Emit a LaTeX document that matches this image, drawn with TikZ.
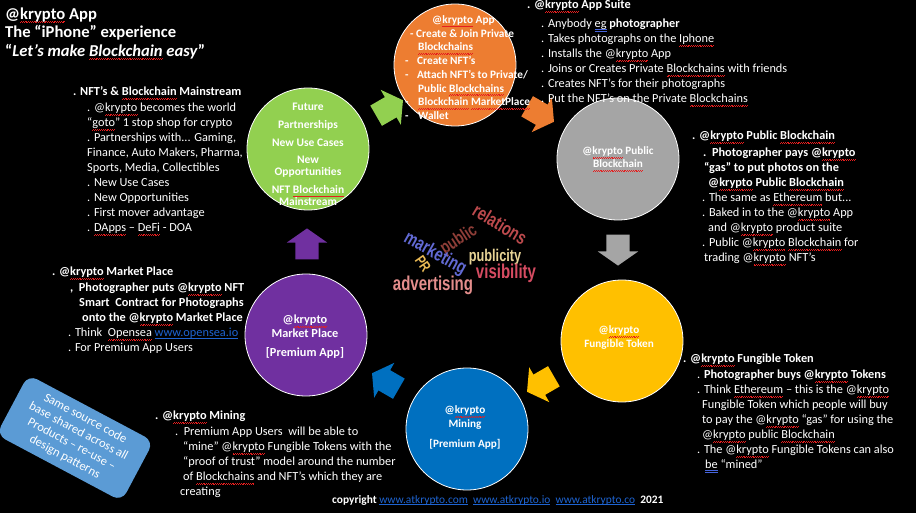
\documentclass[tikz,border=0pt]{standalone}
\usepackage{fontspec}
\setmainfont{Carlito}
\newfontfamily\cloudfont{Liberation Sans}
\usetikzlibrary{shapes.arrows}
\definecolor{corange}{RGB}{237,125,49}
\definecolor{cgray}{RGB}{165,165,165}
\definecolor{cyellow}{RGB}{255,192,0}
\definecolor{cblue}{RGB}{0,112,192}
\definecolor{cpurple}{RGB}{112,48,160}
\definecolor{cgreen}{RGB}{146,208,80}
\definecolor{boxblue}{RGB}{91,155,213}
\definecolor{linkblue}{RGB}{30,100,210}
\definecolor{sqred}{RGB}{230,30,30}
\definecolor{gblue}{RGB}{70,100,220}
\definecolor{wrel}{RGB}{188,74,77}
\definecolor{wpub}{RGB}{143,62,56}
\definecolor{wmkt}{RGB}{98,106,212}
\definecolor{wpr}{RGB}{234,186,85}
\definecolor{wpcy}{RGB}{232,212,150}
\definecolor{wvis}{RGB}{214,76,98}
\definecolor{wadv}{RGB}{228,142,140}
\newsavebox\sqbox
\newcommand\sqw[1]{\sbox\sqbox{#1}\rlap{\textcolor{sqred}{\hbox to\wd\sqbox{\xleaders\hbox{\rule[-3.4pt]{0.9pt}{0.5pt}\rule[-2.7pt]{0.9pt}{0.5pt}}\hfill}}}\usebox\sqbox}
\newcommand\dblu[1]{\sbox\sqbox{#1}\rlap{\textcolor{gblue}{\rule[-2.2pt]{\wd\sqbox}{0.5pt}}}\rlap{\textcolor{gblue}{\rule[-3.5pt]{\wd\sqbox}{0.5pt}}}\usebox\sqbox}
\newcommand\lnk[1]{\sbox\sqbox{\color{linkblue}#1}\rlap{\textcolor{linkblue}{\rule[-1.6pt]{\wd\sqbox}{0.5pt}}}\usebox\sqbox}
\tikzset{
  circ/.style={circle, draw=white, line width=0.8pt, minimum size=122pt, inner sep=0pt},
  barrow/.style={single arrow, draw=none, minimum height=31pt, inner xsep=0pt, inner ysep=11.5pt, single arrow head extend=8.5pt, single arrow tip angle=110},
  body/.style={anchor=north west, inner sep=0pt, align=left, text=white, font=\fontsize{12.3}{15}\selectfont},
  ctext/.style={inner sep=0pt, align=center, text=white, anchor=north},
  cloudw/.style={inner sep=0pt},
}
\begin{document}
\begin{tikzpicture}[x=1pt,y=-1pt]
\useasboundingbox (0,0) rectangle (916,513);
\fill[black] (0,0) rectangle (916,513);

% circles
\node[circ, fill=corange] (orange) at (455,65) {};
\node[circ, fill=cgray] (gray) at (618,159) {};
\node[circ, fill=cyellow] (yellow) at (622,341) {};
\node[circ, fill=cblue] (blue) at (467,429) {};
\node[circ, fill=cpurple] (purple) at (306,335) {};
\node[circ, fill=cgreen] (green) at (308,149) {};

% block arrows
\node[barrow, fill=cgreen, rotate=30] (a1) at (386,110) {};
\node[barrow, fill=corange, rotate=-30] (a2) at (537,112) {};
\node[barrow, fill=cgray, rotate=-90] (a3) at (618,246) {};
\node[barrow, fill=cyellow, rotate=-150] (a4) at (544,382) {};
\node[barrow, fill=cblue, rotate=150] (a5) at (389,383) {};
\node[barrow, fill=cpurple, rotate=90] (a6) at (307,248) {};

% circle texts
\node[anchor=north west, inner sep=0pt, align=left, text=white, font=\fontsize{11.3}{13.7}\selectfont\bfseries] (otext) at (405,13.8)
 {\strut\hspace*{27pt}@\sqw{krypto} App\\\hspace*{5pt}- Create \& Join Private\\\hspace*{13pt}\sqw{Blockchains}\\\makebox[12pt][l]{-}Create NFT’s\\\makebox[12pt][l]{-}Attach NFT’s to Private/\\\hspace*{13pt}Public \sqw{Blockchains}\\\makebox[13pt][l]{-}\sqw{Blockchain} \sqw{MarketPlace}\\\makebox[13pt][l]{-}Wallet};
\node[ctext, font=\fontsize{11.5}{12}\selectfont\bfseries] (gtext) at (308,102)
 {\strut Future\\[6pt]Partnerships\\[6pt]New Use Cases\\[5pt]New\\Opportunities\\[6pt]NFT \sqw{Blockchain}\\Mainstream};
\node[ctext, font=\fontsize{11.2}{13}\selectfont\bfseries] (graytext) at (618,145.4)
 {\strut @\sqw{krypto} Public\\\sqw{Blockchain}};
\node[ctext, font=\fontsize{11.2}{14}\selectfont\bfseries] (ytext) at (619,323.7)
 {\strut @\sqw{krypto}\\Fungible Token};
\node[ctext, font=\fontsize{11.2}{14}\selectfont\bfseries] (btext) at (465,403.7)
 {\strut @\sqw{krypto}\\Mining\\[6pt]{[Premium App]}};
\node[ctext, font=\fontsize{12.3}{14}\selectfont\bfseries] (ptext) at (305,313.7)
 {\strut @\sqw{krypto}\\Market Place\\[5pt]{[Premium App]}};

% title
\node[anchor=north west, inner sep=0pt, align=left, text=white, font=\fontsize{16.6}{18.5}\selectfont\bfseries] (title) at (5,6)
 {\strut @\sqw{krypto} App\\The “iPhone” experience\\“\textit{Let’s make \sqw{Blockchain} easy}”};

% text blocks
\node[body] (suite) at (527,-2)
 {\strut\textbf{. @\sqw{krypto} App Suite}\\[4pt]\hspace*{14pt}. Anybody \dblu{eg} \textbf{photographer}\\\hspace*{14pt}. Takes photographs on the \sqw{Iphone}\\\hspace*{14pt}. Installs the @\sqw{krypto} App\\\hspace*{14pt}. Joins or Creates Private \sqw{Blockchains} with friends\\\hspace*{14pt}. Creates NFT’s for their photographs\\\hspace*{14pt}. Put the NFT’s on the Private \sqw{Blockchains}};

\node[body] (mainstream) at (73,85)
 {\strut\textbf{. NFT’s \& \sqw{Blockchain} Mainstream}\\[1pt]\hspace*{14pt}. @\sqw{krypto} becomes the world\\\hspace*{14pt}“\sqw{goto}” 1 stop shop for crypto\\\hspace*{14pt}. Partnerships with... Gaming,\\\hspace*{14pt}Finance, Auto Makers, Pharma,\\\hspace*{14pt}Sports, Media, Collectibles\\\hspace*{14pt}. New Use Cases\\\hspace*{14pt}. New Opportunities\\\hspace*{14pt}. First mover advantage\\\hspace*{14pt}. \sqw{DApps} – \sqw{DeFi} - DOA};

\node[body] (public) at (692,129)
 {\strut\textbf{. @\sqw{krypto} Public \sqw{Blockchain}}\\[2pt]\hspace*{11pt}\textbf{.\ \ Photographer pays @\sqw{krypto}}\\\hspace*{12pt}\textbf{“gas” to put photos on the}\\\hspace*{16pt}\textbf{@\sqw{krypto} Public \sqw{Blockchain}}\\\hspace*{10pt}. The same as \sqw{Ethereum} but...\\\hspace*{10pt}. Baked in to the @\sqw{krypto} App\\\hspace*{16pt}and @\sqw{krypto} product suite\\\hspace*{10pt}. Public @\sqw{krypto} \sqw{Blockchain} for\\\hspace*{12pt}trading @\sqw{krypto} NFT’s};

\node[body] (market) at (52,265)
 {\strut\textbf{. @\sqw{krypto} Market Place}\\[1pt]\hspace*{18pt}\textbf{,\ \ Photographer puts @\sqw{krypto} NFT}\\\hspace*{27pt}\textbf{Smart\ \ Contract for Photographs}\\\hspace*{30pt}\textbf{onto the @\sqw{krypto} Market Place}\\\hspace*{16pt}. Think\ \ \sqw{Opensea} \lnk{www.opensea.io}\\\hspace*{16pt}. For Premium App Users};

\node[body] (fungible) at (683,352)
 {\strut\textbf{. @\sqw{krypto} Fungible Token}\\[1pt]\hspace*{14pt}. \textbf{Photographer buys @\sqw{krypto} Tokens}\\\hspace*{14pt}. Think \sqw{Ethereum} – this is the @\sqw{krypto}\\\hspace*{19pt}Fungible Token which people will buy\\\hspace*{19pt}to pay the @\sqw{krypto} “gas” for using the\\\hspace*{19pt}@\sqw{krypto} public \sqw{Blockchain}\\\hspace*{14pt}. The @\sqw{krypto} Fungible Tokens can also\\\hspace*{22pt}\dblu{be} “mined”};

\node[body] (mining) at (155,409)
 {\strut\textbf{. @\sqw{krypto} Mining}\\[1pt]\hspace*{20pt}.\ \ Premium App Users\ \ will be able to\\\hspace*{28pt}“mine” @\sqw{krypto} Fungible Tokens with the\\\hspace*{28pt}“proof of trust” model around the number\\\hspace*{28pt}of \sqw{Blockchains} and NFT’s which they are\\\hspace*{25pt}creating};

% blue note box
\node[rounded corners=10pt, fill=boxblue, rotate=-28, minimum width=142pt, minimum height=68pt, inner sep=2pt, align=center, text=white, font=\fontsize{12.5}{14.5}\selectfont] (note) at (75,438)
 {Same source code\\base shared across all\\Products – re-use –\\design patterns};

% copyright
\node[anchor=base west, inner sep=0pt, text=white, font=\fontsize{11.4}{13}\selectfont] (copy) at (332,503)
 {\textbf{copyright} \lnk{www.atkrypto.com}\ \ \lnk{www.atkrypto.io}\ \ \lnk{www.atkrypto.co}\ \ \textbf{2021}};

% word cloud
\node[cloudw, text=wrel, rotate=-31, font=\cloudfont\bfseries\fontsize{19}{19}\selectfont] (w1) at (500,224) {\scalebox{0.75}[1]{relations}};
\node[cloudw, text=wpub, rotate=33, font=\cloudfont\bfseries\fontsize{18}{18}\selectfont] (w2) at (459,240) {\scalebox{0.75}[1]{public}};
\node[cloudw, text=wmkt, rotate=-29, font=\cloudfont\bfseries\fontsize{19}{19}\selectfont] (w3) at (435,254) {\scalebox{0.75}[1]{marketing}};
\node[cloudw, text=wpr, rotate=-55, font=\cloudfont\bfseries\fontsize{15}{15}\selectfont] (w4) at (423,264) {\scalebox{0.75}[1]{PR}};
\node[cloudw, text=wpcy, font=\cloudfont\bfseries\fontsize{17}{17}\selectfont] (w5) at (495,257) {\scalebox{0.75}[1]{publicity}};
\node[cloudw, text=wvis, font=\cloudfont\bfseries\fontsize{20}{20}\selectfont] (w6) at (506,273) {\scalebox{0.75}[1]{visibility}};
\node[cloudw, text=wadv, font=\cloudfont\bfseries\fontsize{20}{20}\selectfont] (w7) at (433,285) {\scalebox{0.75}[1]{advertising}};
\end{tikzpicture}
\end{document}
